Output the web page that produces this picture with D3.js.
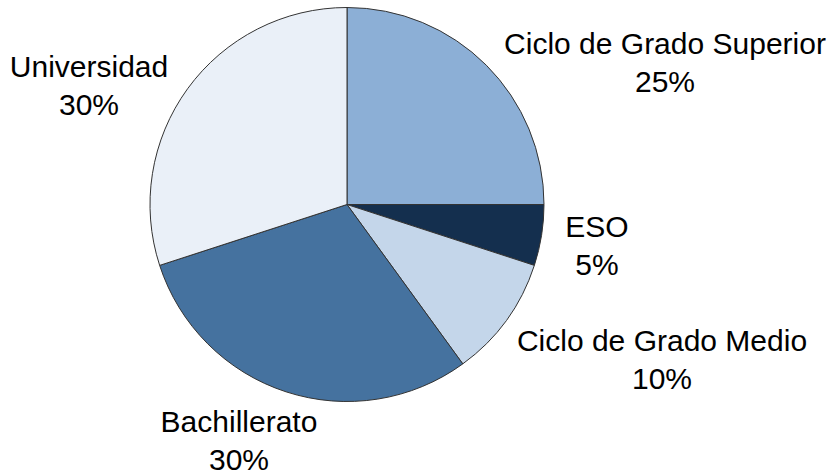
<!DOCTYPE html>
<html>
<head>
<meta charset="utf-8">
<script src="https://cdn.jsdelivr.net/npm/d3@7"></script>
<style>
  body { margin: 0; background: #fff; }
  text { font-family: "Liberation Sans", Arial, sans-serif; font-size: 30px; fill: #000; }
</style>
</head>
<body>
<svg id="chart" width="838" height="475"></svg>
<script>
// data
var categories = ["Ciclo de Grado Superior", "ESO", "Ciclo de Grado Medio", "Bachillerato", "Universidad"];
var values = [25, 5, 10, 30, 30];
var colors = ["#8cafd6", "#142f4e", "#c4d6ea", "#45729f", "#eaf0f8"];

// label layout (centre x, first baseline y)
var labelPos = [[665, 54], [597, 237], [662, 351], [239, 432], [89, 77]];

var svg = d3.select("#chart"),
    cx = 347, cy = 204.5, radius = 197;

var data = categories.map(function(c, i) { return {name: c, value: values[i], color: colors[i], pos: labelPos[i]}; });

var pie = d3.pie().sort(null).value(function(d) { return d.value; });
var arc = d3.arc().innerRadius(0).outerRadius(radius);

var total = d3.sum(values);

var g = svg.append("g")
    .attr("transform", "translate(" + cx + "," + cy + ")");

g.selectAll("path")
  .data(pie(data))
  .enter().append("path")
    .attr("d", arc)
    .attr("fill", function(d) { return d.data.color; })
    .attr("stroke", "#333")
    .attr("stroke-width", 1)
    .attr("stroke-linejoin", "round");

var labels = svg.selectAll(".label")
  .data(data)
  .enter().append("text")
    .attr("class", "label")
    .attr("text-anchor", "middle");

labels.append("tspan")
    .attr("x", function(d) { return d.pos[0]; })
    .attr("y", function(d) { return d.pos[1]; })
    .text(function(d) { return d.name; });

labels.append("tspan")
    .attr("x", function(d) { return d.pos[0]; })
    .attr("y", function(d) { return d.pos[1] + 38; })
    .text(function(d) { return Math.round(d.value / total * 100) + "%"; });
</script>
</body>
</html>
